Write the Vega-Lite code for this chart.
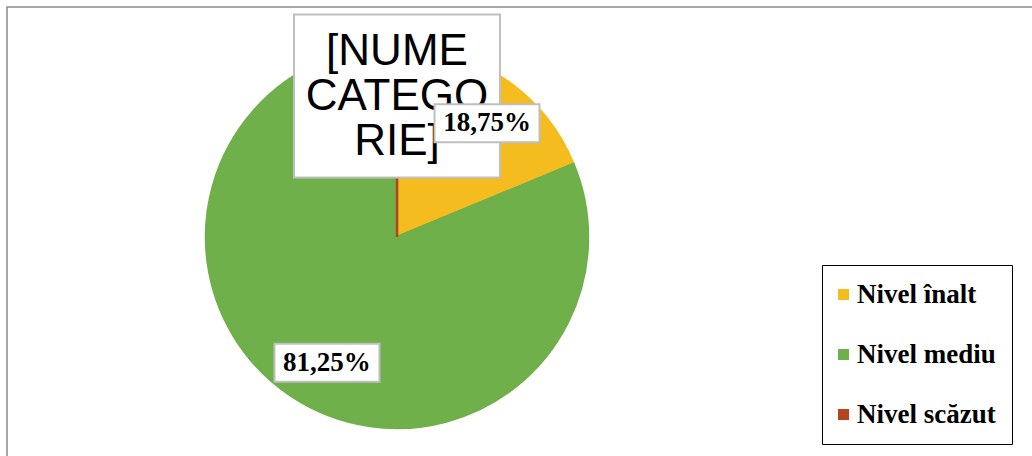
{
  "$schema": "https://vega.github.io/schema/vega-lite/v6.json",
  "width": 1040,
  "height": 460,
  "autosize": {"type": "none"},
  "padding": {"left": 7, "top": 7, "right": -15, "bottom": -11},
  "background": "white",
  "config": {"view": {"stroke": "#8a8a8a", "strokeWidth": 1.5}},
  "data": {
    "values": [
      {"nivel": "Nivel înalt", "procent": 18.75, "ordine": 1, "eticheta": "18,75%"},
      {"nivel": "Nivel mediu", "procent": 81.25, "ordine": 2, "eticheta": "81,25%"},
      {"nivel": "Nivel scăzut", "procent": 0, "ordine": 3, "eticheta": "[NUME|CATEGO|RIE]"}
    ]
  },
  "transform": [
    {"window": [{"op": "sum", "field": "procent", "as": "cum"}], "sort": [{"field": "ordine"}], "frame": [null, 0]},
    {"calculate": "(datum.cum - datum.procent / 2) / 100 * 2 * PI", "as": "unghi"},
    {"calculate": "0.75 * sin(datum.unghi)", "as": "lx"},
    {"calculate": "0.75 * cos(datum.unghi)", "as": "ly"}
  ],
  "layer": [
    {
      "mark": {"type": "arc", "radius": 191, "strokeWidth": 2.5},
      "encoding": {
        "x": {"datum": 0, "type": "quantitative", "scale": {"domain": [-2.03125, 3.3854167], "nice": false, "zero": false}, "axis": null},
        "y": {"datum": 0, "type": "quantitative", "scale": {"domain": [-1.1979167, 1.1979167], "nice": false, "zero": false}, "axis": null},
        "theta": {"field": "procent", "type": "quantitative", "stack": true},
        "order": {"field": "ordine", "type": "quantitative"},
        "color": {
          "field": "nivel", "type": "nominal",
          "scale": {"domain": ["Nivel înalt", "Nivel mediu", "Nivel scăzut"], "range": ["#F4BC1E", "#6FB04A", "#B3461F"]},
          "legend": {
            "title": null, "orient": "none", "legendX": 815, "legendY": 258, "direction": "vertical",
            "strokeColor": "#000000", "fillColor": "white", "padding": 16, "rowPadding": 32,
            "symbolType": "square", "symbolSize": 121, "symbolStrokeWidth": 0, "symbolOffset": -8,
            "labelFont": "Liberation Serif", "labelFontSize": 27, "labelFontWeight": "bold", "labelColor": "#000000",
            "labelOffset": 0, "labelLimit": 0
          }
        },
        "stroke": {
          "field": "nivel", "type": "nominal",
          "scale": {"domain": ["Nivel înalt", "Nivel mediu", "Nivel scăzut"], "range": ["#F4BC1E", "#6FB04A", "#B3461F"]},
          "legend": null
        }
      }
    },
    {
      "transform": [{"filter": "datum.ordine == 3"}],
      "mark": {"type": "point", "shape": "M-1,-0.7913H1V0.7913H-1Z", "size": 42436, "filled": true, "fill": "white", "stroke": "#bfbfbf", "strokeWidth": 2, "opacity": 1, "fillOpacity": 1, "yOffset": 3},
      "encoding": {
        "x": {"field": "lx", "type": "quantitative"},
        "y": {"field": "ly", "type": "quantitative"}
      }
    },
    {
      "transform": [{"filter": "datum.ordine == 3"}],
      "mark": {"type": "text", "font": "Liberation Sans", "fontSize": 44, "lineHeight": 45, "lineBreak": "|", "align": "center", "baseline": "middle", "color": "#000000", "yOffset": -41},
      "encoding": {
        "x": {"field": "lx", "type": "quantitative"},
        "y": {"field": "ly", "type": "quantitative"},
        "text": {"field": "eticheta", "type": "nominal"}
      }
    },
    {
      "transform": [{"filter": "datum.ordine < 3"}],
      "mark": {"type": "point", "shape": "M-1,-0.362H1V0.362H-1Z", "size": 11025, "filled": true, "fill": "white", "stroke": "#bfbfbf", "strokeWidth": 2, "opacity": 1, "fillOpacity": 1, "xOffset": 10, "yOffset": 6},
      "encoding": {
        "x": {"field": "lx", "type": "quantitative"},
        "y": {"field": "ly", "type": "quantitative"}
      }
    },
    {
      "transform": [{"filter": "datum.ordine < 3"}],
      "mark": {"type": "text", "font": "Liberation Serif", "fontSize": 27, "fontWeight": "bold", "align": "center", "baseline": "middle", "color": "#000000", "xOffset": 10, "yOffset": 6},
      "encoding": {
        "x": {"field": "lx", "type": "quantitative"},
        "y": {"field": "ly", "type": "quantitative"},
        "text": {"field": "eticheta", "type": "nominal"}
      }
    }
  ]
}
